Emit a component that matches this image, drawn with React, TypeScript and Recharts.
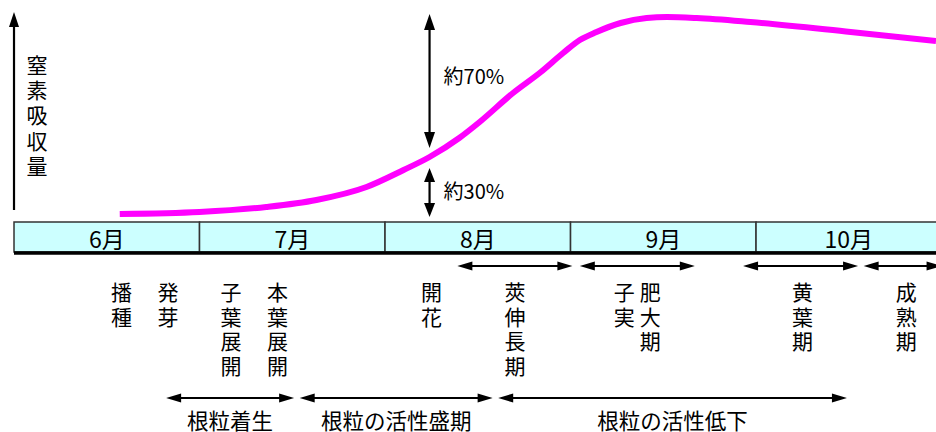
import React from 'react';
import {
  LineChart,
  Line,
  XAxis,
  YAxis,
  ReferenceArea,
  ReferenceLine,
  ReferenceDot,
} from 'recharts';

// x = months since 1 June, n = relative nitrogen uptake (peak = 100)
const months = ['6月', '7月', '8月', '9月', '10月'];
const uptakeT = [0.57, 1.0, 1.36, 1.63, 1.9, 2.1, 2.24, 2.4, 2.51, 2.69, 2.84, 2.96, 3.05, 3.14, 3.27, 3.41, 3.52, 3.68, 3.97, 4.51, 4.97];
const uptakeN = [1.5, 2.5, 5, 8.5, 15, 23.5, 30, 39.5, 47.5, 62, 72.5, 82, 88.5, 92.5, 97, 99.5, 100, 99.5, 97.5, 92.5, 88];

const stageNames = ['播種', '発芽', '子葉展開', '本葉展開', '開花', '莢伸長期', '子実', '肥大期', '黄葉期', '成熟期'];
const stageT = [0.58, 0.83, 1.17, 1.42, 2.25, 2.7, 3.29, 3.43, 4.25, 4.81];

const periodFrom = [2.39, 3.05, 3.93, 4.58];
const periodTo = [3.01, 3.67, 4.55, 5.0];

const noduleLabels = ['根粒着生', '根粒の活性盛期', '根粒の活性低下'];
const noduleFrom = [0.82, 1.54, 2.61];
const noduleTo = [1.51, 2.58, 4.49];

const flowerT = 2.24;
const shareLabels = ['約70%', '約30%'];

const uptake = uptakeT.map((t, i) => ({ t, n: uptakeN[i] }));

const FONT = '"Noto Sans CJK JP", "Noto Sans", sans-serif';

const Arrow = (p: any) => {
  const { x1, y1, x2, y2, start = true, end = true, w = 2, head = 14, half = 4.5 } = p;
  const dx = x2 - x1;
  const dy = y2 - y1;
  const len = Math.hypot(dx, dy) || 1;
  const ux = dx / len;
  const uy = dy / len;
  const nx = -uy;
  const ny = ux;
  const tri = (tx: number, ty: number, dir: number) => {
    const bx = tx - dir * ux * head;
    const by = ty - dir * uy * head;
    return `${tx},${ty} ${bx + nx * half},${by + ny * half} ${bx - nx * half},${by - ny * half}`;
  };
  const sx = start ? x1 + ux * head * 0.8 : x1;
  const sy = start ? y1 + uy * head * 0.8 : y1;
  const ex = end ? x2 - ux * head * 0.8 : x2;
  const ey = end ? y2 - uy * head * 0.8 : y2;
  return (
    <g>
      <line x1={sx} y1={sy} x2={ex} y2={ey} stroke="#000" strokeWidth={w} />
      {start && <polygon points={tri(x1, y1, -1)} fill="#000" />}
      {end && <polygon points={tri(x2, y2, 1)} fill="#000" />}
    </g>
  );
};

// one <text> per character so the column stacks like the original
const VText = ({ cx, cy, text, size = 21, gap = 24.5 }: any) => (
  <g>
    {Array.from(text as string).map((ch, i) => (
      <text
        key={i}
        x={cx}
        y={cy + i * gap}
        fontFamily={FONT}
        fontSize={size}
        fill="#000"
        textAnchor="middle"
        dominantBaseline="central"
      >
        {ch}
      </text>
    ))}
  </g>
);

const HText = ({ cx, cy, text, size = 21, anchor = 'middle' }: any) => (
  <text
    x={cx}
    y={cy}
    fontFamily={FONT}
    fontSize={size}
    fill="#000"
    textAnchor={anchor}
    dominantBaseline="central"
  >
    {text}
  </text>
);

// layout rows (pixel axis)
const BAND_TOP = 222;
const BAND_BOTTOM = 252;
const PERIOD_ROW = 266;
const STAGE_ROW = 291;
const NODULE_ROW = 398;
const NODULE_TEXT = 419;

export default function App() {
  return (
    <div style={{ position: 'absolute', left: 0, top: 0, width: 936, height: 432, background: '#fff' }}>
      <LineChart width={936} height={432} data={uptake} margin={{ top: 0, right: 0, bottom: 0, left: 0 }}>
        <XAxis dataKey="t" type="number" domain={[-0.0755, 4.97]} allowDataOverflow hide />
        <YAxis yAxisId="n" type="number" domain={[-107.5, 108.5]} allowDataOverflow hide />
        <YAxis yAxisId="px" type="number" domain={[0, 432]} reversed allowDataOverflow hide />

        {months.map((m, i) => (
          <ReferenceArea
            key={m}
            yAxisId="px"
            x1={i}
            x2={i + 1}
            y1={BAND_TOP}
            y2={BAND_BOTTOM}
            fill="#CCFFFF"
            fillOpacity={1}
            stroke="#333"
            strokeWidth={1.5}
            ifOverflow="visible"
          />
        ))}
        <ReferenceLine
          yAxisId="px"
          segment={[{ x: 0, y: BAND_BOTTOM + 1 }, { x: 5.05, y: BAND_BOTTOM + 1 }]}
          stroke="#000"
          strokeWidth={3.5}
          ifOverflow="visible"
        />
        {months.map((m, i) => (
          <ReferenceDot
            key={'ml' + m}
            yAxisId="px"
            x={i + 0.5}
            y={BAND_TOP + 16}
            r={0}
            ifOverflow="visible"
            shape={(p: any) => <HText cx={p.cx} cy={p.cy} text={m} size={23} />}
          />
        ))}

        {/* y axis arrow and title */}
        <ReferenceLine
          yAxisId="px"
          segment={[{ x: 0, y: 210 }, { x: 0, y: 12 }]}
          ifOverflow="visible"
          shape={(p: any) => <Arrow {...p} start={false} w={2.2} head={15} half={5} />}
        />
        <ReferenceDot
          yAxisId="px"
          x={0.124}
          y={64}
          r={0}
          ifOverflow="visible"
          shape={(p: any) => <VText cx={p.cx} cy={p.cy} text="窒素吸収量" size={21} gap={25.2} />}
        />

        {/* share of uptake before / after flowering */}
        <ReferenceLine
          yAxisId="n"
          segment={[{ x: flowerT, y: 34.5 }, { x: flowerT, y: 101.5 }]}
          ifOverflow="visible"
          shape={(p: any) => <Arrow {...p} w={2.2} head={16} half={5.5} />}
        />
        <ReferenceLine
          yAxisId="n"
          segment={[{ x: flowerT, y: 0 }, { x: flowerT, y: 24.5 }]}
          ifOverflow="visible"
          shape={(p: any) => <Arrow {...p} w={2.2} head={14} half={5.5} />}
        />
        <ReferenceDot
          yAxisId="n"
          x={flowerT}
          y={71}
          r={0}
          ifOverflow="visible"
          shape={(p: any) => <HText cx={p.cx + 14} cy={p.cy} text={shareLabels[0]} size={20} anchor="start" />}
        />
        <ReferenceDot
          yAxisId="n"
          x={flowerT}
          y={13.5}
          r={0}
          ifOverflow="visible"
          shape={(p: any) => <HText cx={p.cx + 14} cy={p.cy} text={shareLabels[1]} size={20} anchor="start" />}
        />

        {/* growth periods */}
        {periodFrom.map((f, i) => (
          <ReferenceLine
            key={'pa' + i}
            yAxisId="px"
            segment={[{ x: f, y: PERIOD_ROW }, { x: periodTo[i], y: PERIOD_ROW }]}
            ifOverflow="visible"
            shape={(p: any) => <Arrow {...p} w={2} head={15} half={4.5} />}
          />
        ))}
        {stageNames.map((s, i) => (
          <ReferenceDot
            key={'st' + s}
            yAxisId="px"
            x={stageT[i]}
            y={STAGE_ROW}
            r={0}
            ifOverflow="visible"
            shape={(p: any) => <VText cx={p.cx} cy={p.cy} text={s} size={21} gap={24.5} />}
          />
        ))}

        {/* nodule activity */}
        {noduleLabels.map((lab, i) => (
          <ReferenceLine
            key={'na' + i}
            yAxisId="px"
            segment={[{ x: noduleFrom[i], y: NODULE_ROW }, { x: noduleTo[i], y: NODULE_ROW }]}
            ifOverflow="visible"
            shape={(p: any) => <Arrow {...p} w={2} head={15} half={4.5} />}
          />
        ))}
        {noduleLabels.map((lab, i) => (
          <ReferenceDot
            key={'nl' + i}
            yAxisId="px"
            x={(noduleFrom[i] + noduleTo[i]) / 2}
            y={NODULE_TEXT}
            r={0}
            ifOverflow="visible"
            shape={(p: any) => <HText cx={p.cx} cy={p.cy} text={lab} size={21.5} />}
          />
        ))}

        <Line
          yAxisId="n"
          type="monotone"
          dataKey="n"
          stroke="#FF00FF"
          strokeWidth={6}
          dot={false}
          activeDot={false}
          isAnimationActive={false}
        />
      </LineChart>
    </div>
  );
}
